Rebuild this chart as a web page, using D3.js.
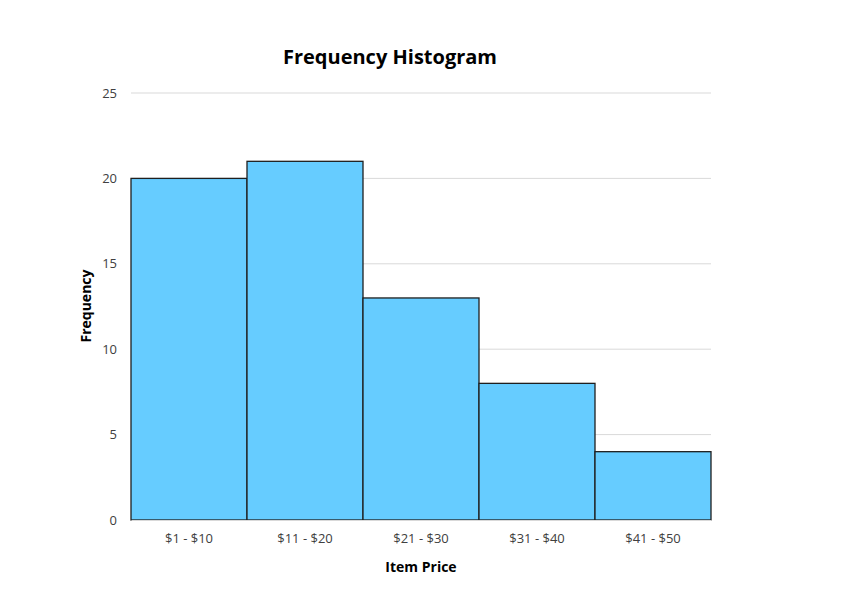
<!DOCTYPE html>
<html>
<head>
<meta charset="utf-8">
<script src="https://cdn.jsdelivr.net/npm/d3@7"></script>
<style>
  body { margin: 0; background: #fff; }
  text { font-family: "Open Sans", sans-serif; fill: #404040; }
</style>
</head>
<body>
<div id="chart"></div>
<script>
var svgWidth = 853;
var svgHeight = 601;

var margin = { top: 93, right: 142, bottom: 81, left: 131 };
var width = svgWidth - margin.left - margin.right;
var height = svgHeight - margin.top - margin.bottom;

// data
var priceBins = ["$1 - $10", "$11 - $20", "$21 - $30", "$31 - $40", "$41 - $50"];
var frequency = [20, 21, 13, 8, 4];
var yTicks = [0, 5, 10, 15, 20, 25];

var svg = d3.select("#chart")
  .append("svg")
  .attr("width", svgWidth)
  .attr("height", svgHeight);

var chartGroup = svg.append("g")
  .attr("transform", `translate(${margin.left}, ${margin.top})`);

var xScale = d3.scaleBand()
  .domain(priceBins)
  .range([0, width])
  .padding(0);

var yScale = d3.scaleLinear()
  .domain([0, 25])
  .range([height, 0]);

// gridlines
chartGroup.selectAll(".grid")
  .data(yTicks)
  .enter()
  .append("line")
  .attr("x1", 0)
  .attr("x2", width)
  .attr("y1", d => yScale(d))
  .attr("y2", d => yScale(d))
  .attr("stroke", "#d9d9d9")
  .attr("stroke-width", 1);

// y axis labels
var leftAxis = d3.axisLeft(yScale).tickValues(yTicks).tickSize(0).tickPadding(14);
var yAxisG = chartGroup.append("g").call(leftAxis);
yAxisG.select(".domain").remove();
yAxisG.selectAll("text")
  .attr("font-size", 13)
  .style("font-family", "'Open Sans', sans-serif")
  .attr("fill", "#404040");

// bars
chartGroup.selectAll("rect")
  .data(frequency)
  .enter()
  .append("rect")
  .attr("x", (d, i) => xScale(priceBins[i]))
  .attr("y", d => yScale(d))
  .attr("width", xScale.bandwidth())
  .attr("height", d => height - yScale(d))
  .attr("fill", "#66ccff")
  .attr("stroke", "#1f1f1f")
  .attr("stroke-width", 1.3);

// x axis labels
var bottomAxis = d3.axisBottom(xScale).tickSize(0).tickPadding(14);
var xAxisG = chartGroup.append("g")
  .attr("transform", `translate(0, ${height})`)
  .call(bottomAxis);
xAxisG.select(".domain").attr("stroke", "#d9d9d9");
xAxisG.selectAll("text")
  .attr("font-size", 13)
  .style("font-family", "'Open Sans', sans-serif")
  .attr("fill", "#404040");

// title
svg.append("text")
  .attr("x", 390)
  .attr("y", 64)
  .attr("text-anchor", "middle")
  .attr("font-size", 20)
  .attr("font-weight", "bold")
  .style("fill", "#000")
  .text("Frequency Histogram");

// axis titles
svg.append("text")
  .attr("x", 421)
  .attr("y", 572)
  .attr("text-anchor", "middle")
  .attr("font-size", 14)
  .attr("font-weight", "bold")
  .style("fill", "#000")
  .text("Item Price");

svg.append("text")
  .attr("transform", "translate(91, 306) rotate(-90)")
  .attr("text-anchor", "middle")
  .attr("font-size", 14)
  .attr("font-weight", "bold")
  .style("fill", "#000")
  .text("Frequency");
</script>
</body>
</html>
